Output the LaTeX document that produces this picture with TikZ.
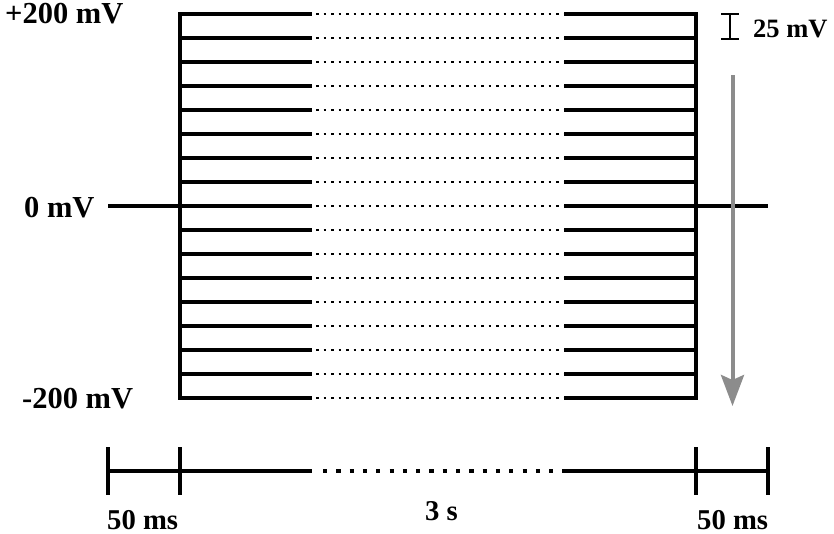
\documentclass[tikz,border=0pt]{standalone}
\usepackage{fontspec}
\setmainfont{Liberation Serif}
\usetikzlibrary{arrows.meta}
\definecolor{arrowgray}{HTML}{8C8C8C}
\tikzset{
  lvl/.style={line width=3.1pt, line cap=butt},
  lvldot/.style={line width=2.5pt, dash pattern=on 2.5pt off 5pt},
  axis/.style={line width=4.2pt},
  axisdot/.style={line width=4.2pt, dash pattern=on 4.2pt off 9.1pt},
  tick/.style={line width=4.2pt},
  lab/.style={font=\bfseries\fontsize{30.5}{30}\selectfont, inner sep=0pt, anchor=base west},
  tlab/.style={font=\bfseries\fontsize{28.7}{28}\selectfont, inner sep=0pt, anchor=base west},
}
\begin{document}
\begin{tikzpicture}[x=1pt,y=-1pt]
\useasboundingbox (0,0) rectangle (834,533);
% levels
\foreach \i in {0,...,16}{
  \pgfmathsetmacro{\yy}{14+24*\i}
  \coordinate (L\i) at (180,\yy);
  \coordinate (A\i) at (312,\yy);
  \coordinate (B\i) at (564,\yy);
  \coordinate (R\i) at (696,\yy);
  \draw[lvl] (L\i) -- (A\i);
  \draw[lvldot] (A\i) ++(4,0) -- (B\i);
  \draw[lvl] (B\i) -- (R\i);
}
\draw[lvl, line cap=rect] (L0) -- (L16);
\draw[lvl, line cap=rect] (R0) -- (R16);
% zero line extensions
\coordinate (Z1) at (108,206);
\coordinate (Z2) at (768,206);
\draw[lvl] (Z1) -- (L8);
\draw[lvl] (R8) -- (Z2);
% labels
\node[lab] (p200) at (5,23.5) {+200 mV};
\node[lab] (z0) at (24,217) {0 mV};
\node[lab] (m200) at (22,408) {-200 mV};
% scale bar
\coordinate (S1) at (730,14);
\coordinate (S2) at (730,39);
\draw[line width=1.5pt] (S1) -- (S2);
\draw[line width=1.5pt] (721,14) -- (739,14);
\draw[line width=1.5pt] (721,39) -- (739,39);
\node[font=\bfseries\fontsize{26.5}{26}\selectfont, inner sep=0pt, anchor=base west] (s25) at (753,37) {25 mV};
% gray arrow
\coordinate (G1) at (732.5,75);
\coordinate (G2) at (732.5,406);
\draw[arrowgray, line width=4pt, -{Stealth[length=31pt,width=23pt,inset=5pt]}] (G1) -- (G2);
% timeline
\coordinate (T0) at (108,471);
\coordinate (T1) at (180,471);
\coordinate (Ta) at (312,471);
\coordinate (Tb) at (565,471);
\coordinate (T2) at (696,471);
\coordinate (T3) at (768,471);
\draw[axis] (T0) -- (Ta);
\draw[axisdot] (323,471) -- (Tb);
\draw[axis] (Tb) -- (T3);
\foreach \t in {T0,T1,T2,T3}{
  \draw[tick] (\t) ++(0,-24) -- ++(0,48);
}
\node[tlab] (ms1) at (107,529) {50 ms};
\node[tlab] (s3) at (425,520) {3 s};
\node[tlab] (ms2) at (697,529) {50 ms};
\end{tikzpicture}
\end{document}
